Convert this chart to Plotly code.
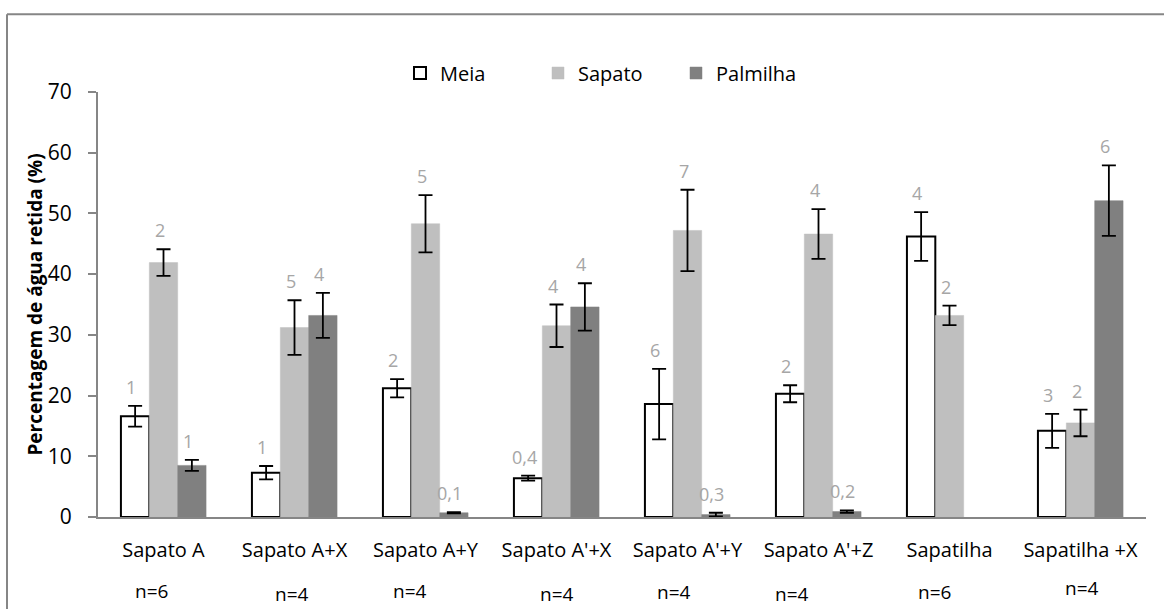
import plotly.graph_objects as go

categories = ["Sapato A", "Sapato A+X", "Sapato A+Y", "Sapato A'+X",
              "Sapato A'+Y", "Sapato A'+Z", "Sapatilha", "Sapatilha +X"]
n_labels = ["n=6", "n=4", "n=4", "n=4", "n=4", "n=4", "n=6", "n=4"]

meia = [16.6, 7.3, 21.2, 6.4, 18.6, 20.3, 46.2, 14.2]
meia_err = [1.7, 1.1, 1.5, 0.4, 5.8, 1.4, 4.0, 2.8]
meia_lbl = ["1", "1", "2", "0,4", "6", "2", "4", "3"]

sapato = [41.9, 31.2, 48.3, 31.5, 47.2, 46.6, 33.2, 15.5]
sapato_err = [2.2, 4.5, 4.7, 3.5, 6.7, 4.1, 1.6, 2.2]
sapato_lbl = ["2", "5", "5", "4", "7", "4", "2", "2"]

palmilha = [8.5, 33.2, 0.7, 34.6, 0.4, 0.9, None, 52.1]
palmilha_err = [0.9, 3.7, 0.1, 3.9, 0.3, 0.2, None, 5.8]
palmilha_lbl = ["1", "4", "0,1", "4", "0,3", "0,2", "", "6"]

FONT = "Open Sans"
BAR_GAP = 0.35
bw = (1 - BAR_GAP) / 3
xs = list(range(len(categories)))

fig = go.Figure()
series = [
    ("Meia", meia, meia_err, meia_lbl, "white", "black", 2, -bw),
    ("Sapato", sapato, sapato_err, sapato_lbl, "#BFBFBF", "#BFBFBF", 0.5, 0.0),
    ("Palmilha", palmilha, palmilha_err, palmilha_lbl, "#808080", "#808080", 0.5, bw),
]
for name, vals, errs, lbls, fill, line, lw, off in series:
    fig.add_trace(go.Bar(
        name=name, x=xs, y=vals,
        marker=dict(color=fill, line=dict(color=line, width=lw)),
        error_y=dict(type="data", array=errs, visible=True,
                     color="black", thickness=1.8, width=7),
    ))
    for i, (v, e, l) in enumerate(zip(vals, errs, lbls)):
        if v is None or not l:
            continue
        fig.add_annotation(x=i + off - 0.03, y=v + e, xref="x", yref="y", text=l,
                           showarrow=False, yanchor="bottom", yshift=5,
                           font=dict(family=FONT, size=18, color="#A6A6A6"))

n_shift = [(-12, 0), (-3, -3), (-16, 0), (0, -3), (-14, -1), (-27, -3), (-15, -1), (1, 3)]
for i, (lbl, (dx, dy)) in enumerate(zip(n_labels, n_shift)):
    fig.add_annotation(x=i, y=0, xref="x", yref="y", text=lbl, showarrow=False,
                       yshift=-74 + dy, xshift=dx,
                       font=dict(family=FONT, size=19, color="black"))

fig.add_shape(type="line", xref="paper", yref="paper",
              x0=(7 - 98) / 1048, x1=(7 - 98) / 1048, y0=(517 - 13) / 426, y1=-0.3,
              line=dict(color="#868686", width=2))
fig.add_shape(type="line", xref="paper", yref="paper",
              x0=(7 - 98) / 1048, x1=1.1, y0=(517 - 13) / 426, y1=(517 - 13) / 426,
              line=dict(color="#868686", width=2))

fig.update_layout(
    width=1164, height=609,
    margin=dict(l=98, r=18, t=92, b=92),
    paper_bgcolor="white", plot_bgcolor="white",
    barmode="group", bargap=BAR_GAP, bargroupgap=0,
    font=dict(family=FONT, size=20, color="black"),
    legend=dict(orientation="h", x=(400 - 98) / 1048, xanchor="left",
                y=(517 - 72) / 426, yanchor="middle",
                font=dict(family=FONT, size=20), itemwidth=30,
                entrywidth=93, entrywidthmode="pixels",
                traceorder="normal"),
    xaxis=dict(tickmode="array", tickvals=xs, ticktext=categories,
               range=[-0.5, len(categories) - 0.5],
               showline=True, linecolor="#868686", linewidth=2,
               ticks="", showgrid=False, zeroline=False,
               ticklabelstandoff=14,
               tickfont=dict(family=FONT, size=20)),
    yaxis=dict(range=[0, 70], dtick=10, showline=True, linecolor="#868686", linewidth=2,
               ticks="outside", ticklen=8, tickcolor="#868686", tickwidth=1.5,
               showgrid=False, zeroline=False, ticklabelstandoff=12,
               tickfont=dict(family=FONT, size=21),
               title=dict(text="<b>Percentagem de água retida (%)</b>",
                          font=dict(family=FONT, size=19), standoff=0)),
    showlegend=True,
)

fig.write_html("out.html")
